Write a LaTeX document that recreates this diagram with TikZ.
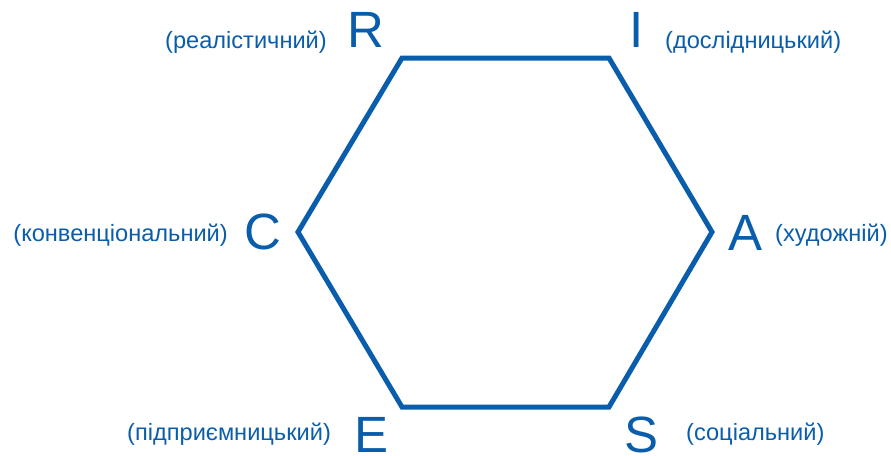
\documentclass[tikz,border=0pt]{standalone}
\usepackage{fontspec}
\setmainfont{Liberation Sans}
\definecolor{hexblue}{HTML}{0A5DAA}
\begin{document}
\begin{tikzpicture}[x=1pt,y=-1pt,
  letter/.style={inner sep=0pt, text=hexblue, font=\fontsize{51}{51}\selectfont},
  lbl/.style={inner sep=0pt, text=hexblue, font=\fontsize{23.6}{24}\selectfont},
  edge/.style={draw=hexblue, line width=5pt, line join=miter}]
\useasboundingbox (0,0) rectangle (891,455);
\coordinate (vR) at (402,58);
\coordinate (vI) at (609,58);
\coordinate (vA) at (712,232);
\coordinate (vS) at (609,407);
\coordinate (vE) at (402,407);
\coordinate (vC) at (298,232);
\draw[edge] (vR) -- (vI) -- (vA) -- (vS) -- (vE) -- (vC) -- cycle;
\node[letter] (R) at (366,30) {R};
\node[letter] (I) at (636.5,30) {I};
\node[letter] (A) at (745,232.5) {A};
\node[letter] (S) at (641.5,434.5) {S};
\node[letter] (E) at (372,434.5) {E};
\node[letter] (C) at (262.5,232) {C};
\node[lbl, anchor=east] (lR) at (327,42.5) {(реалістичний)};
\node[lbl, anchor=west] (lI) at (665,42.5) {(дослідницький)};
\node[lbl, anchor=east] (lC) at (228,235) {(конвенціональний)};
\node[lbl, anchor=west] (lA) at (775,235) {(художній)};
\node[lbl, anchor=east] (lE) at (331,434.5) {(підприємницький)};
\node[lbl, anchor=west] (lS) at (686,434) {(соціальний)};
\end{tikzpicture}
\end{document}
